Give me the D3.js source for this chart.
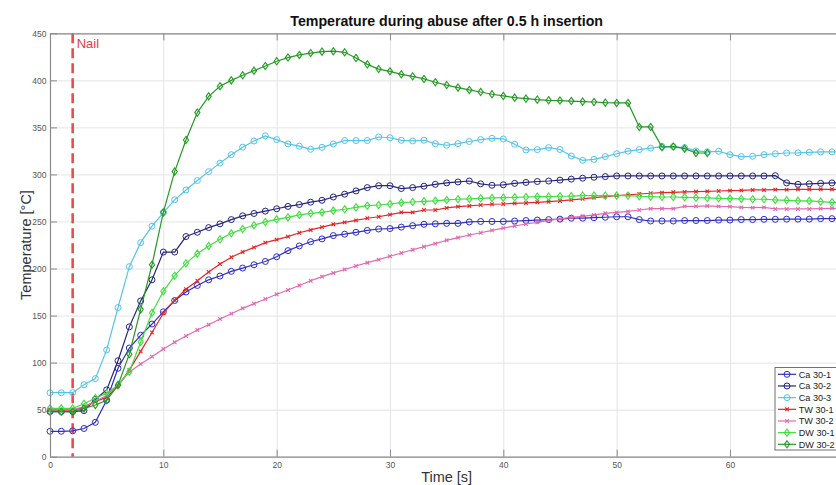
<!DOCTYPE html>
<html>
<head>
<meta charset="utf-8">
<script src="https://cdn.jsdelivr.net/npm/d3@7"></script>
<style>
  html, body { margin: 0; padding: 0; background: #fff; overflow: hidden; }
  svg { display: block; font-family: "Liberation Sans", Arial, sans-serif; }
</style>
</head>
<body>
<svg id="chart" width="836" height="485"></svg>
<script>
// ---------- DATA ----------
const time = [0,1,2,3,4,5,6,7,8,9,10,11,12,13,14,15,16,17,18,19,20,21,22,23,24,25,26,27,28,29,30,31,32,33,34,35,36,37,38,39,40,41,42,43,44,45,46,47,48,49,50,51,52,53,54,55,56,57,58,59,60,61,62,63,64,65,66,67,68,69,70];

const seriesNames = ["Ca 30-1","Ca 30-2","Ca 30-3","TW 30-1","TW 30-2","DW 30-1","DW 30-2"];

const ca301 = [27,27,27.5,30,36.5,60,94,115.5,129,141,154,166,175,182,188,192,197,200.5,204,207.5,212.5,219,224,228.5,231.5,235,236.5,238.5,240.5,242,242.5,244,245.5,247,247.5,248,248,249.5,250,250,250,250.5,251,251.5,252,252.5,253.5,253.5,254,254.5,255,255,252,250.5,250.5,250.5,251,251,251,251.5,251.5,252,252,252.3,252.3,252.5,252.5,252.5,253,253,253];

const ca302 = [48,48,48,49,61,71,102,138,165.5,188,217.5,217.5,234,238.5,243.5,247.5,252,256,258.5,261,263.5,266,268,270.5,272.5,276,279,282.5,286,288,288,285,286,287.5,289.5,291,292,293,290,288.5,289,290.5,291.5,292.5,293,294,295,296,297,297.7,298.4,298.4,298.4,298.4,298.4,298.4,298.4,298.4,298.4,298.4,298.4,298.4,298.4,298.4,298.7,291,289.5,290,290.5,291,291];

const ca303 = [68,68,68,76.5,83,113.5,158.5,202,227.5,245,259.5,273,283.5,293.5,303,312,321,329,335.5,341,337,332.5,330,326.7,328.8,332.4,336,336,336,339.8,339,336.3,335.6,336.3,332.7,331,332.7,335,337,338.4,337.7,332,326,326.4,328.5,326.5,319.6,315,316,319,322,324.7,326.4,328,329.6,329.6,328.5,325,324,324.6,321,319,319.3,321,322,322.8,323,323.5,324,324,324];

const tw301 = [49.6,49.6,49.6,52.4,58.8,63,75,92,112,132,152.4,166.5,178,187,196.3,204.8,212,217.6,222.5,227.5,230.7,233.9,238,241,244,247,249,251.2,253.4,255,257.3,259.7,259.7,262.2,262.2,264.4,265.8,266.5,267.5,268.3,268.6,269.3,269.7,270.4,271,271.8,273,274,275.3,276.4,277.5,278.2,279.2,280,280.6,281,281.4,281.7,282,282.4,282.8,283,283.5,283.5,283.8,283.8,284.2,284.2,284.2,284.2,284.2];

const tw302 = [50,50,50,53,59,65,76,90,98.5,106.3,114.5,121.6,128.3,134.7,140.3,146.4,152,157.7,162.7,167.6,172.6,177.2,182,187,191.4,195.3,199,202.7,206.2,209.4,213,216.5,220,223.2,226.4,230,232.8,235.6,238,240.6,243,245.2,247.3,249,251.2,252.7,254.4,255.5,257,258.7,259.7,260.8,262.2,263.6,263.6,263.6,266,266,266.5,266,265.8,265,264.7,265,263.3,263.3,263.3,263.3,263.6,264,264];

const dw301 = [51.4,51.4,51.4,56.3,62.4,67.3,76.5,90.4,122,153,175.8,192.4,205.5,215.8,224,231,237.4,242,246,249.5,252.3,254.4,257,258.7,259.7,261.5,263,265,266.8,267.5,268.6,270,270.7,271.4,272,272.9,273.6,274,274.6,275,275.3,275.7,276,276.4,276.4,276.8,277,277.5,277.5,277.5,277.5,277.5,276.8,276.4,276,276,275.7,275.3,275,274.6,274.3,274,273.6,273.6,272.9,272.5,272,271.8,271,270.4,270.2];

const dw302 = [47.8,47.8,47.8,51.4,55,60,76,109,156.6,204,259.7,303,336.6,365.7,383,393.7,400,405.4,410.3,415.3,420.3,424.2,427,429,430.5,431,429.8,423.8,417,412,409.6,406.4,404.3,401.5,398,395,392.3,389.8,387.6,385.2,383.4,381.6,380.6,379.5,378.8,378.5,378,377.4,377,376.3,376,376,350.5,350.5,329,329.6,327.4,322.8,322.8];

const xTicks = [0,10,20,30,40,50,60,70];
const xTickLabels = ["0","10","20","30","40","50","60",""];
const yTicks = [0,50,100,150,200,250,300,350,400,450];
const nailTime = 2;

const seriesValues = [ca301, ca302, ca303, tw301, tw302, dw301, dw302];
const seriesColors = ["#2e2ec2","#25257d","#52c4e8","#e42626","#e06ab0","#40de40","#239a23"];
const seriesMarkers = ["circle","circle","circle","x","x","diamond","diamond"];

// ---------- LAYOUT ----------
const svg = d3.select("#chart");
const pL = 50, pR = 843.3, pT = 33.3, pB = 456.7;
const x = d3.scaleLinear().domain([0, 70]).range([pL, pR]);
const y = d3.scaleLinear().domain([0, 450]).range([pB, pT]);

// grid
const grid = svg.append("g");
grid.append("g").attr("transform", `translate(0,${pB})`)
  .call(d3.axisBottom(x).tickValues(xTicks).tickSize(-(pB - pT)).tickFormat(""))
  .call(g => g.select(".domain").remove())
  .call(g => g.selectAll("line").attr("stroke", "#e4e4e4").attr("stroke-width", 1));
grid.append("g").attr("transform", `translate(${pL},0)`)
  .call(d3.axisLeft(y).tickValues(yTicks).tickSize(-(pR - pL)).tickFormat(""))
  .call(g => g.select(".domain").remove())
  .call(g => g.selectAll("line").attr("stroke", "#e4e4e4").attr("stroke-width", 1));

// nail line
svg.append("line")
  .attr("x1", x(nailTime)).attr("x2", x(nailTime))
  .attr("y1", pT).attr("y2", pB)
  .attr("stroke", "#ec4a52").attr("stroke-width", 2.6)
  .attr("stroke-dasharray", "10,5");
svg.append("text").attr("x", x(nailTime) + 4).attr("y", 47.5)
  .attr("fill", "#e63d45").attr("font-size", 13).text("Nail");

// series
const line = d3.line().x(d => x(d[0])).y(d => y(d[1]));
function drawMarker(g, type, color) {
  if (type === "circle") {
    g.append("circle").attr("r", 3).attr("fill", "none").attr("stroke", color).attr("stroke-width", 1);
  } else if (type === "diamond") {
    g.append("path").attr("d", "M0,-3.6L2.6,0L0,3.6L-2.6,0Z").attr("fill", "none").attr("stroke", color).attr("stroke-width", 1.1);
  } else {
    g.append("path").attr("d", "M-1.8,-1.8L1.8,1.8M-1.8,1.8L1.8,-1.8").attr("stroke", color).attr("stroke-width", 1.1);
  }
}
const plot = svg.append("g");
seriesValues.forEach((vals, i) => {
  const pts = vals.map((v, j) => [time[j], v]);
  const g = plot.append("g");
  g.append("path").attr("d", line(pts)).attr("fill", "none")
    .attr("stroke", seriesColors[i]).attr("stroke-width", 1.2);
  pts.forEach(p => {
    const m = g.append("g").attr("transform", `translate(${x(p[0])},${y(p[1])})`);
    drawMarker(m, seriesMarkers[i], seriesColors[i]);
  });
});

// axes (box, inward ticks)
const axisColor = "#8a8a8a";
function styleAxis(g) {
  g.select(".domain").attr("stroke", axisColor).attr("stroke-width", 1.2);
  g.selectAll(".tick line").attr("stroke", axisColor).attr("stroke-width", 1);
  g.selectAll("text").attr("fill", "#555").attr("font-size", 8.5).attr("font-family", "Liberation Sans, Arial, sans-serif");
}
svg.append("g").attr("transform", `translate(0,${pB})`)
  .call(d3.axisBottom(x).tickValues(xTicks).tickSizeInner(-7).tickSizeOuter(0).tickPadding(5)
    .tickFormat((d, i) => xTickLabels[i]))
  .call(styleAxis);
svg.append("g").attr("transform", `translate(0,${pT})`)
  .call(d3.axisTop(x).tickValues(xTicks).tickSizeInner(-7).tickSizeOuter(0).tickFormat(""))
  .call(styleAxis);
svg.append("g").attr("transform", `translate(${pL},0)`)
  .call(d3.axisLeft(y).tickValues(yTicks).tickSizeInner(-7).tickSizeOuter(0).tickPadding(3.5))
  .call(styleAxis);
svg.append("g").attr("transform", `translate(${pR},0)`)
  .call(d3.axisRight(y).tickValues(yTicks).tickSizeInner(-7).tickSizeOuter(0).tickFormat(""))
  .call(styleAxis);

// title & labels
svg.append("text").attr("x", (pL + pR) / 2).attr("y", 26)
  .attr("text-anchor", "middle").attr("font-weight", "bold").attr("font-size", 14.2)
  .attr("fill", "#111").text("Temperature during abuse after 0.5 h insertion");
svg.append("text").attr("x", (pL + pR) / 2).attr("y", 482)
  .attr("text-anchor", "middle").attr("font-size", 14.5).attr("fill", "#333").text("Time [s]");
svg.append("text").attr("transform", `translate(31,${(pT + pB) / 2}) rotate(-90)`)
  .attr("text-anchor", "middle").attr("font-size", 14.5).attr("fill", "#333").text("Temperature [°C]");

// legend
const lg = svg.append("g");
lg.append("rect").attr("x", 775).attr("y", 367.5).attr("width", 75).attr("height", 82.5)
  .attr("fill", "#fff").attr("stroke", "#707070").attr("stroke-width", 1);
seriesNames.forEach((name, i) => {
  const yy = 374.3 + i * 11.67;
  lg.append("line").attr("x1", 778).attr("x2", 796).attr("y1", yy).attr("y2", yy)
    .attr("stroke", seriesColors[i]).attr("stroke-width", 1.2);
  const m = lg.append("g").attr("transform", `translate(787,${yy})`);
  drawMarker(m, seriesMarkers[i], seriesColors[i]);
  lg.append("text").attr("x", 798.8).attr("y", yy + 3.4).attr("font-size", 9.1)
    .attr("fill", "#222").text(name);
});
</script>
</body>
</html>
